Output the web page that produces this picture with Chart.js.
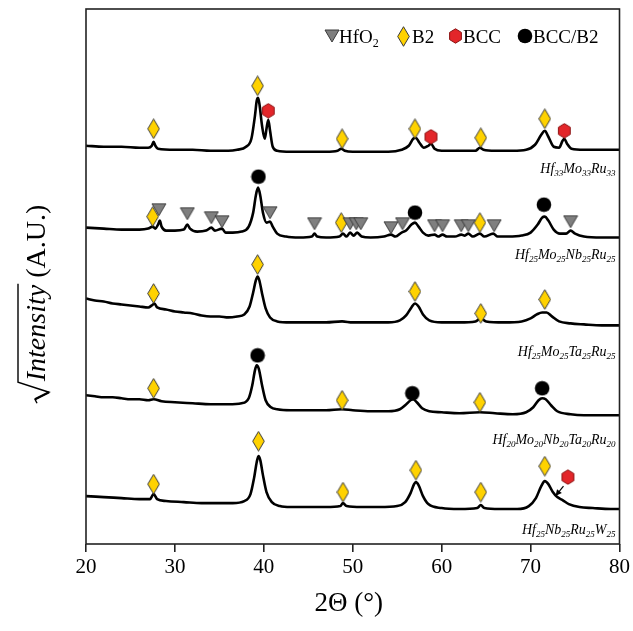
<!DOCTYPE html>
<html><head><meta charset="utf-8">
<script src="https://cdn.jsdelivr.net/npm/chart.js@4/dist/chart.umd.min.js"></script>
<style>html,body{margin:0;padding:0;background:#fff}</style>
</head><body>
<canvas id="c" width="633" height="631"></canvas>
<script>
// ---- Data (2θ in degrees, stacked √intensity in arbitrary units) ----
const t1X=[20,22,24,26,27,27.4,27.6,27.8,28.1,30,32,34,36,37,38,38.6,39.0,39.2,39.35,39.5,39.8,40.1,40.3,40.5,40.7,41.0,41.5,43,45,47,48.3,48.7,49.1,50,52,54,55.5,56.3,56.8,57.1,57.5,58.0,58.5,58.8,59.2,60,62,63.8,64.3,64.7,66,68,69.5,70.5,71.2,71.6,72.0,72.6,73.2,73.6,73.8,74.1,74.6,76,78,80];
const t1Y=[399,398,398,397,397,399,403,399,396,395,395,394,394,395,398,406,429,444,447,441,419,406,416,425,414,398,394,393,393,393,394,396,394,393,393,393,395,399,406,407,402,397,399,401,396,394,394,394,397,395,394,394,395,400,410,414,408,398,397,404,406,401,396,395,395,395];

const t2X=[20,22,24,26,27,27.5,27.8,28.1,28.3,28.5,29,30,31,31.4,31.7,32.5,33.5,34.1,34.5,35.3,35.7,36.5,37.5,38.3,38.8,39.1,39.35,39.6,39.9,40.3,40.7,41.0,41.5,42.5,44,45.4,45.7,46.0,47,48.5,48.9,49.3,49.7,50.1,50.5,51.0,52,53.5,54.3,54.8,55.5,56.0,56.6,57.0,57.4,57.9,58.5,59.2,59.6,60.1,60.6,61.5,62.2,62.6,63.0,63.5,64.3,64.8,65.8,66.3,67.5,69,70,70.8,71.3,71.6,72.0,72.6,73.3,74.0,74.5,75.0,76,78,80];
const t2Y=[317,316,315,315,316,318,316,320,324,318,314,314,315,320,316,313,314,317,314,316,312,312,313,318,332,349,357,349,332,322,323,318,311,308,307,308,311,308,307,308,311,308,312,309,312,308,307,308,310,308,312,314,320,322,318,312,309,310,308,310,308,308,310,309,311,308,311,308,311,308,308,309,312,320,327,328,324,315,311,311,314,311,308,307,307];

const t3X=[20,21,22,23,24,25,26,27,27.4,27.7,28.0,29,30,31,32,33,34,35,36,37,37.8,38.4,38.8,39.1,39.3,39.5,39.8,40.2,40.7,41.5,43,45,47,48.8,50,52,54,55.3,56.0,56.6,57.0,57.4,57.9,58.6,60,62,63.8,64.4,65,67,69,70,70.7,71.3,71.8,72.4,73.2,74.5,76,78,80];
const t3Y=[246,244,243,241,240,239,238,237,239,241,237,235,233,232,231,229,228,228,227,228,230,238,252,264,268,264,251,236,227,223,222,222,222,223,222,222,222,224,229,237,241,238,230,224,222,222,223,226,223,222,223,226,230,232,232,228,223,221,220,219,219];

const t4X=[20,21,22,23,24,25,26,27,27.6,28.5,30,32,34,36,37.5,38.3,38.7,39.0,39.2,39.45,39.8,40.2,40.8,41.5,43,45,47,48.8,50,52,54,55.3,55.9,56.5,56.8,57.2,57.8,58.6,60,62,64.3,66,68,69.5,70.3,70.9,71.3,71.7,72.3,73.0,74.5,76,78,80];
const t4Y=[149,148,147,147,146,145,145,144,145,143,142,141,140,140,141,146,159,174,179,175,159,144,137,135,134,134,134,135,134,133,133,135,139,144,145,142,136,133,132,131,132,131,130,132,137,144,146,145,139,133,130,129,129,129];

const t5X=[20,22,24,26,27.2,27.6,28.0,29,31,33,35,36.5,37.8,38.5,38.9,39.2,39.4,39.6,39.9,40.3,40.9,41.8,43,45,47,48.6,48.9,49.3,51,53,55,55.9,56.5,56.9,57.1,57.4,57.9,58.5,60,62,64.0,64.4,64.8,66.5,68.5,69.8,70.6,71.2,71.6,72.0,72.5,73.0,73.6,74.3,75.5,77,79,80];
const t5Y=[48,47,46,45,45,50,45,43,42,41,41,41,43,50,66,82,88,84,69,52,42,38,37,37,37,38,41,38,37,37,38,42,51,60,62,59,48,40,36,35,36,39,36,35,35,38,46,58,63,60,52,47,44,40,37,36,35,35];

// phase markers
const hfo2X=[28.2,31.4,34.1,35.3,40.7,45.7,49.7,50.4,50.9,54.3,55.6,59.2,60.1,62.2,63.0,65.9,74.5];
const hfo2Y=[335,331,327,323,332,321,321,321,321,317,321,319,319,319,319,319,323];
const b2X=[27.6,39.3,48.8,57.0,64.4,71.6, 27.5,48.7,64.3, 27.6,39.3,57.0,64.4,71.6, 27.6,48.8,64.3, 27.6,39.4,48.9,57.1,64.4,71.6];
const b2Y=[416,459,406,416,407,426, 328,322,322, 251,280,253,231,245, 156,144,142, 60,103,52,74,52,78];
const bccX=[40.5,58.8,73.8,74.2];
const bccY=[434,408,414,67];
const bccB2X=[39.4,57.0,71.5, 39.3,56.7,71.3];
const bccB2Y=[368,332,340, 189,151,156];
const arrowFrom=[73.7,58];
const arrowTo=[72.8,48];

const xTicks=[20,30,40,50,60,70,80];
const sampleLabels=[
  [["Hf","33"],["Mo","33"],["Ru","33"]],
  [["Hf","25"],["Mo","25"],["Nb","25"],["Ru","25"]],
  [["Hf","25"],["Mo","25"],["Ta","25"],["Ru","25"]],
  [["Hf","20"],["Mo","20"],["Nb","20"],["Ta","20"],["Ru","20"]],
  [["Hf","25"],["Nb","25"],["Ru","25"],["W","25"]]
];
const sampleLabelY=[372,286,188,100,10];
const legendItems=["HfO","B2","BCC","BCC/B2"];

// ---- marker sprites ----
function sprite(w,h,fn){const c=document.createElement('canvas');c.width=w;c.height=h;const g=c.getContext('2d');fn(g,w,h);return c;}
const triImg=sprite(16,14,g=>{g.beginPath();g.moveTo(1,1);g.lineTo(15,1);g.lineTo(8,13);g.closePath();g.fillStyle='#7f7f7f';g.fill();g.strokeStyle='#3a3a3a';g.lineWidth=1;g.stroke();});
const diaImg=sprite(13,21,g=>{g.beginPath();g.moveTo(6.5,0.7);g.lineTo(12.3,10.5);g.lineTo(6.5,20.3);g.lineTo(0.7,10.5);g.closePath();g.fillStyle='#ffd200';g.fill();g.strokeStyle='#3a3a3a';g.lineWidth=1;g.stroke();});
const hexImg=sprite(15,16,g=>{g.beginPath();for(let i=0;i<6;i++){const a=Math.PI/2+i*Math.PI/3;const x=7.5+6.8*Math.cos(a),y=8+7.2*Math.sin(a);i?g.lineTo(x,y):g.moveTo(x,y);}g.closePath();g.fillStyle='#e3262a';g.fill();g.strokeStyle='#8a1010';g.lineWidth=1;g.stroke();});
const cirImg=sprite(16,16,g=>{g.beginPath();g.arc(8,8,7.3,0,Math.PI*2);g.fillStyle='#000';g.fill();});

const zip=(a,b)=>a.map((v,i)=>({x:v,y:b[i]}));
const traces=[[t1X,t1Y],[t2X,t2Y],[t3X,t3Y],[t4X,t4Y],[t5X,t5Y]];
const lineSets=traces.map(([x,y])=>({type:'line',data:zip(x,y),borderColor:'#000',borderWidth:2.6,pointRadius:0,cubicInterpolationMode:'monotone',fill:false,order:2}));
const markSet=(x,y,img)=>({type:'scatter',data:zip(x,y),pointStyle:img,pointRadius:8,order:0,showLine:false});
const datasets=lineSets.concat([markSet(hfo2X,hfo2Y,triImg),markSet(b2X,b2Y,diaImg),markSet(bccX,bccY,hexImg),markSet(bccB2X,bccB2Y,cirImg)]);

const SERIF="'Liberation Serif','Times New Roman',serif";

const deco={id:'deco',afterDatasetsDraw(chart){
  const {ctx,chartArea:a,scales:{x,y}}=chart;
  ctx.save();
  // frame
  ctx.strokeStyle='#222';ctx.lineWidth=1.6;
  ctx.strokeRect(a.left,a.top,a.right-a.left,a.bottom-a.top);
  // arrow
  const fx=x.getPixelForValue(arrowFrom[0]),fy=y.getPixelForValue(arrowFrom[1]);
  const tx=x.getPixelForValue(arrowTo[0]),ty=y.getPixelForValue(arrowTo[1]);
  ctx.strokeStyle='#000';ctx.lineWidth=1.2;ctx.beginPath();ctx.moveTo(fx,fy);ctx.lineTo(tx,ty);ctx.stroke();
  const ang=Math.atan2(ty-fy,tx-fx);
  ctx.beginPath();ctx.moveTo(tx,ty);ctx.lineTo(tx-7*Math.cos(ang-0.45),ty-7*Math.sin(ang-0.45));ctx.lineTo(tx-7*Math.cos(ang+0.45),ty-7*Math.sin(ang+0.45));ctx.closePath();ctx.fillStyle='#000';ctx.fill();
  // sample labels
  ctx.fillStyle='#000';ctx.textBaseline='alphabetic';
  sampleLabels.forEach((parts,i)=>{
    let w=0;
    parts.forEach(([el,sub])=>{ctx.font='italic 14px '+SERIF;w+=ctx.measureText(el).width;ctx.font='italic 9px '+SERIF;w+=ctx.measureText(sub).width;});
    let px=a.right-4-w;const py=y.getPixelForValue(sampleLabelY[i]);
    parts.forEach(([el,sub])=>{ctx.font='italic 14px '+SERIF;ctx.fillText(el,px,py);px+=ctx.measureText(el).width;ctx.font='italic 9px '+SERIF;ctx.fillText(sub,px,py+3);px+=ctx.measureText(sub).width;});
  });
  // legend
  const ly=43;ctx.font='19px '+SERIF;
  ctx.drawImage(triImg,324,29);
  ctx.fillText('HfO',339,ly);let hw=ctx.measureText('HfO').width;ctx.font='12px '+SERIF;ctx.fillText('2',339+hw,ly+4);
  ctx.font='19px '+SERIF;
  ctx.drawImage(diaImg,397,26);ctx.fillText('B2',412,ly);
  ctx.drawImage(hexImg,448,28);ctx.fillText('BCC',463,ly);
  ctx.drawImage(cirImg,517,28);ctx.fillText('BCC/B2',533,ly);
  // x title
  ctx.font='27px '+SERIF;ctx.textAlign='center';ctx.textBaseline='alphabetic';
  ctx.fillText('2\u0398 (\u00B0)',(a.left+a.right)/2-4,611);
  // y title
  ctx.translate(36,304);ctx.rotate(-Math.PI/2);
  ctx.textAlign='left';ctx.textBaseline='alphabetic';
  ctx.font='italic 28px '+SERIF;const wI=ctx.measureText('Intensity').width;
  ctx.font='28px '+SERIF;const wA=ctx.measureText(' (A.U.)').width;
  const radW=22,total=radW+wI+wA;let sx=-total/2;const base=9;
  ctx.strokeStyle='#000';ctx.lineWidth=1.4;ctx.beginPath();
  ctx.moveTo(sx,base-8);ctx.lineTo(sx+4,base-10);ctx.lineTo(sx+11,base+4);ctx.lineTo(sx+21,base-27);ctx.lineTo(sx+radW+wI+1,base-27);ctx.stroke();
  ctx.lineWidth=2.4;ctx.beginPath();ctx.moveTo(sx+4,base-10);ctx.lineTo(sx+11,base+4);ctx.stroke();
  ctx.font='italic 28px '+SERIF;ctx.fillText('Intensity',sx+radW,base);
  ctx.font='28px '+SERIF;ctx.fillText(' (A.U.)',sx+radW+wI,base);
  ctx.restore();
}};

new Chart(document.getElementById('c'),{
  data:{datasets},
  options:{responsive:false,animation:false,devicePixelRatio:1,
    layout:{padding:{left:0,right:12,top:8,bottom:0}},
    plugins:{legend:{display:false},tooltip:{enabled:false}},
    scales:{
      x:{type:'linear',min:20,max:80,
        afterBuildTicks(s){s.ticks=xTicks.map(v=>({value:v}));},
        ticks:{color:'#000',font:{family:SERIF,size:21},padding:3,maxRotation:0},
        grid:{drawOnChartArea:false,drawTicks:true,tickLength:8,color:'#222',lineWidth:1.6},
        border:{display:false},
        afterFit(s){s.height=87;}},
      y:{type:'linear',min:0,max:536,ticks:{display:false},grid:{display:false},border:{display:false},
        afterFit(s){s.width=86;}}
    }},
  plugins:[deco]
});
</script>
</body></html>
